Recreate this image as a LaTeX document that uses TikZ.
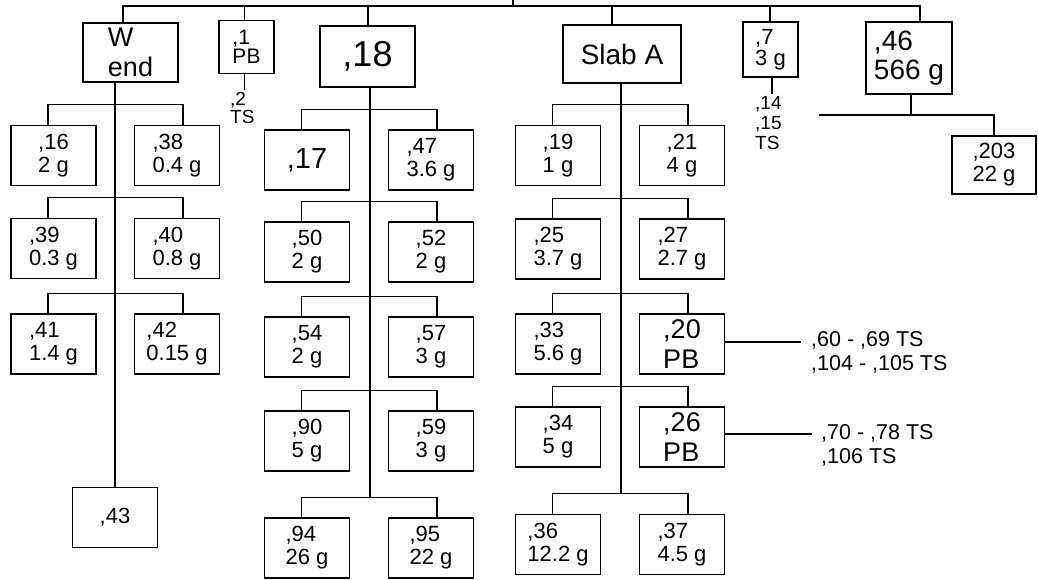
\documentclass[tikz,border=0pt]{standalone}
\usepackage{fontspec}
\setmainfont{Liberation Sans}
\usetikzlibrary{calc}

\begin{document}
\begin{tikzpicture}[x=1pt, y=-1pt,
  box/.style={draw, line width=1.3pt, minimum width=85pt, minimum height=60pt,
    inner sep=0pt, align=left, font=\fontsize{22}{23}\selectfont},
  pbbox/.style={font=\fontsize{27}{30}\selectfont},
  note/.style={inner sep=2pt, align=left, font=\fontsize{19}{18.5}\selectfont},
  link/.style={line width=1.2pt}]

\useasboundingbox (0,0) rectangle (1038,580);

%─────────────
% Pair of samples under one bar
% #1 = extra style of right box, #2,#3 = names,
% #4,#5 = x of left/right box, #6 = y, #7,#8 = texts
%─────────────
\newcommand{\drawPair}[8][]{%
  \node[box] (#2) at (#4,#6) {#7};
  \node[box, #1] (#3) at (#5,#6) {#8};
  \draw[link] ([xshift=-5.5pt]#2.north) -- ++(0,-20) coordinate (#2bar)
    -| ([xshift=6pt]#3.north);
}

%─────────────
% Top row
%─────────────
\node[box, minimum width=95pt, minimum height=59pt, font=\fontsize{27}{30}\selectfont] (wend) at (130.5,52.5) {W\\end};
\node[box, minimum width=55pt, minimum height=53pt, font=\fontsize{21}{19}\selectfont] (pb1) at (246.5,47) {,1\\PB};
\node[box, minimum width=95pt, minimum height=61pt, font=\fontsize{36}{40}\selectfont] (s18) at (367.5,56.5) {,18};
\node[box, minimum width=118pt, minimum height=58pt, font=\fontsize{28}{30}\selectfont] (slab) at (622,54) {Slab A};
\node[box, minimum width=55pt, minimum height=55pt, font=\fontsize{22}{21}\selectfont] (s7) at (770.5,49.5) {,7\\3 g};
\node[box, minimum width=86pt, minimum height=72pt, font=\fontsize{28}{29}\selectfont] (s46) at (909,58) {,46\\566 g};

\coordinate (root) at (513,0);
\coordinate (top) at (513,6);
\draw[link] (root) -- (top);
\draw[link] ([xshift=-7.5pt]wend.north) |- (top) -| ([xshift=11pt]s46.north);
\foreach \n/\dx in {pb1/-2, s18/0.5, slab/-10, s7/-0.5}
  \draw[link] ([xshift=\dx pt]\n.north) -- ([xshift=\dx pt]\n.north |- top);

% loose samples under ,1 and ,7
\node[note, anchor=north west] (ts2) at (228,90) {,2\\TS};
\draw[link] ([xshift=-2pt]pb1.south) -- ([xshift=-2pt]pb1.south |- ts2.north);
\node[note, anchor=north west, font=\fontsize{19}{20}\selectfont] (ts7) at (753,94) {,14\\,15\\TS};
\draw[link] ([xshift=1.5pt]s7.south) -- ([xshift=1.5pt]s7.south |- ts7.north);

% ,46 branch
\node[box, minimum width=84pt, minimum height=58pt] (s203) at (994,165) {,203\\22 g};
\coordinate (b46) at (819,115);
\draw[link] (b46) -| (s203.north);
\draw[link] ([xshift=2pt]s46.south) -- ([xshift=2pt]s46.south |- b46);

%─────────────
% W end
%─────────────
\drawPair{s16}{s38}{53.5}{177}{155.5}{,16\\2 g}{,38\\0.4 g}
\drawPair{s39}{s40}{53.5}{177}{248.5}{,39\\0.3 g}{,40\\0.8 g}
\drawPair{s41}{s42}{53.5}{177}{344}{,41\\1.4 g}{,42\\0.15 g}
\node[box] (s43) at (115,517.5) {,43};
\draw[link] (s43.north) -- (s43.north |- wend.south);

%─────────────
% ,18
%─────────────
\drawPair{s17}{s47}{307}{431}{160}{\fontsize{29}{30}\selectfont ,17}{,47\\3.6 g}
\drawPair{s50}{s52}{307}{431}{252}{,50\\2 g}{,52\\2 g}
\drawPair{s54}{s57}{307}{431}{347}{,54\\2 g}{,57\\3 g}
\drawPair{s90}{s59}{307}{431}{441}{,90\\5 g}{,59\\3 g}
\drawPair{s94}{s95}{307}{431}{548}{,94\\26 g}{,95\\22 g}
\draw[link] ([xshift=2.5pt]s18.south) -- ([xshift=2.5pt]s18.south |- s94bar);

%─────────────
% Slab A
%─────────────
\drawPair{s19}{s21}{558}{682}{155.5}{,19\\1 g}{,21\\4 g}
\drawPair{s25}{s27}{558}{682}{249}{,25\\3.7 g}{,27\\2.7 g}
\drawPair[pbbox]{s33}{s20}{558}{682}{344}{,33\\5.6 g}{,20\\PB}
\drawPair[pbbox]{s34}{s26}{558}{682}{437}{,34\\5 g}{,26\\PB}
\drawPair{s36}{s37}{558}{682}{544.5}{,36\\12.2 g}{,37\\4.5 g}
\draw[link] ([xshift=-1pt]slab.south) -- ([xshift=-1pt]slab.south |- s36bar);

% TS lists off the PB samples
\node[note, anchor=west, font=\fontsize{21.5}{24}\selectfont] (ts20) at (809,352) {,60 - ,69 TS\\,104 - ,105 TS};
\draw[link] ([yshift=2pt]s20.east) -- ([xshift=-8pt,yshift=2pt]s20.east -| ts20.west);
\node[note, anchor=west, font=\fontsize{21.5}{24}\selectfont] (ts26) at (819,445) {,70 - ,78 TS\\,106 TS};
\draw[link] ([yshift=3pt]s26.east) -- ([xshift=-7pt,yshift=3pt]s26.east -| ts26.west);

\end{tikzpicture}
\end{document}
